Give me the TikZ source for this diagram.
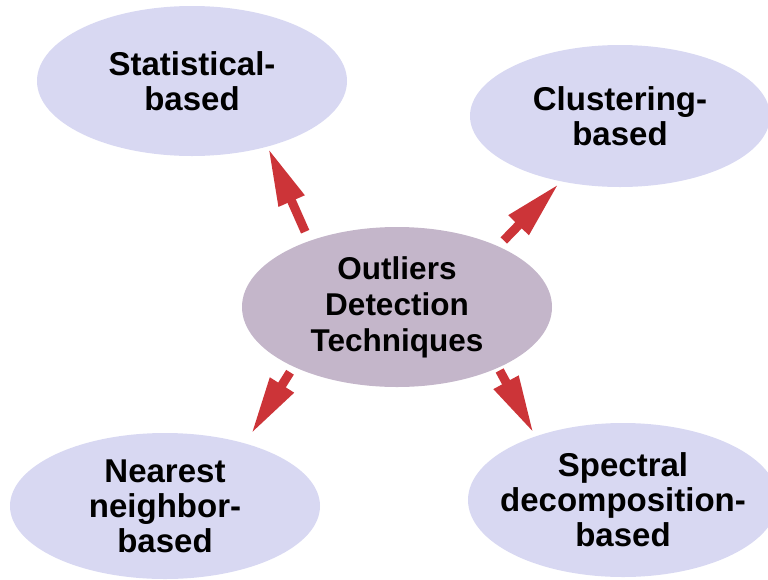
\documentclass[tikz,border=0pt]{standalone}
\usepackage{fontspec}
\setmainfont{Liberation Sans}
\usetikzlibrary{arrows.meta,shapes.geometric}
\definecolor{bubblefill}{RGB}{216,216,242}
\definecolor{corefill}{RGB}{196,182,202}
\definecolor{arrowred}{RGB}{204,52,56}

\begin{document}
\begin{tikzpicture}[
  x=1pt, y=-1pt,
  bubble/.style={ellipse, fill=bubblefill, minimum width=310pt, minimum height=150pt,
                 inner xsep=-30pt, inner ysep=-10pt, align=center,
                 font=\fontsize{33}{35}\selectfont\bfseries},
  corebox/.style={bubble, fill=corefill, minimum height=160pt,
                  font=\fontsize{31.5}{36}\selectfont\bfseries},
  arr/.style={-{Triangle[length=58pt,width=26pt]}, line width=9pt, arrowred},
]
\useasboundingbox (0,0) rectangle (768,579);

% Centre
\node[corebox] (core) at (397,307) {Outliers\\Detection\\Techniques};

% Techniques
\node[bubble] (stat) at (192,81) {Statistical-\\based};
\node[bubble, minimum width=300pt, minimum height=142pt] (clust) at (620,116) {Clustering-\\based};
\node[bubble, minimum height=146pt] (near) at (165,506) {Nearest\\neighbor-\\based};
\node[bubble, minimum height=154pt] (spec) at (623,500) {Spectral\\decomposition-\\based};

% Arrows
\draw[arr, shorten <=10pt, shorten >=1.5pt] (core.143) -- (stat.-41);
\draw[arr, shorten <=8pt, shorten >=3pt] (core.31) -- (clust.228);
\draw[arr, shorten <=6.5pt, shorten >=11pt] (core.210) -- (near.38);
\draw[arr, shorten <=3pt, shorten >=3.5pt] (core.-31) -- (spec.144);

\end{tikzpicture}
\end{document}
